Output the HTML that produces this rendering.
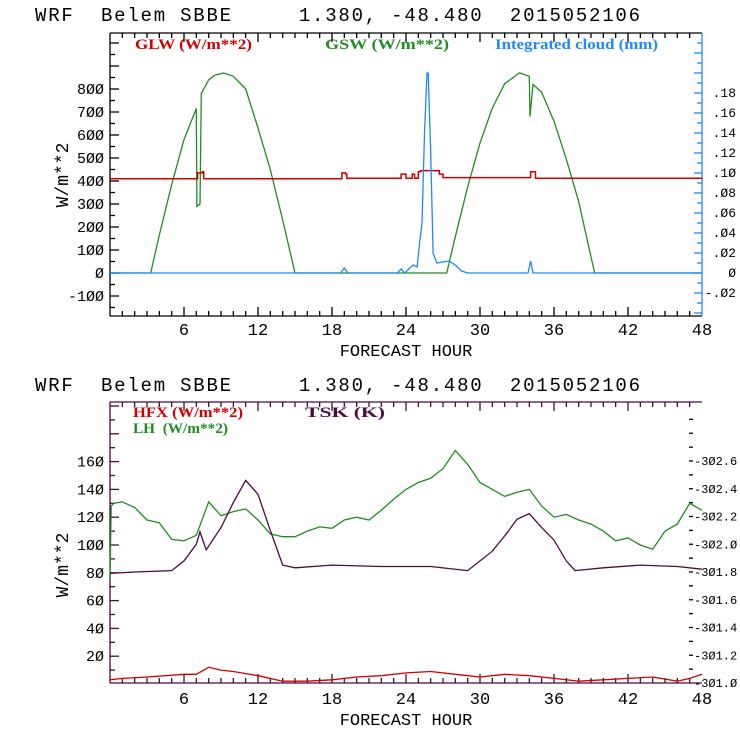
<!DOCTYPE html>
<html><head><meta charset="utf-8">
<style>
html,body{margin:0;padding:0;background:#fff;}
svg{display:block;}
text{font-family:"Liberation Mono",monospace;}
.lg{font-family:"Liberation Serif",serif;font-size:15px;font-weight:bold;}
</style></head>
<body>
<svg id="c" width="740" height="740" xmlns="http://www.w3.org/2000/svg">
<text x="35" y="21" font-size="19" xml:space="preserve" textLength="605" lengthAdjust="spacing">WRF  Belem SBBE     1.380, -48.480  2015052106</text>
<text x="35" y="391" font-size="19" xml:space="preserve" textLength="605" lengthAdjust="spacing">WRF  Belem SBBE     1.380, -48.480  2015052106</text>
<text class="lg" x="135" y="49" fill="#d00000" textLength="117" lengthAdjust="spacingAndGlyphs">GLW (W/m**2)</text>
<text class="lg" x="325" y="49" fill="#228b22" textLength="124" lengthAdjust="spacingAndGlyphs">GSW (W/m**2)</text>
<text class="lg" x="495" y="49" fill="#1e88ff" textLength="163" lengthAdjust="spacingAndGlyphs">Integrated cloud (mm)</text>
<text class="lg" x="133" y="417" fill="#d00000" textLength="110" lengthAdjust="spacingAndGlyphs">HFX (W/m**2)</text>
<text class="lg" x="133" y="433" fill="#228b22" xml:space="preserve" textLength="95" lengthAdjust="spacingAndGlyphs">LH  (W/m**2)</text>
<text class="lg" x="305" y="417" fill="#4b0a40" textLength="80" lengthAdjust="spacingAndGlyphs">TSK (K)</text>
<text x="406" y="356" font-size="17" text-anchor="middle">FORECAST HOUR</text>
<text x="406" y="725" font-size="17" text-anchor="middle">FORECAST HOUR</text>
<text transform="translate(68,175) rotate(-90)" font-size="18" text-anchor="middle">W/m**2</text>
<text transform="translate(68,565) rotate(-90)" font-size="18" text-anchor="middle">W/m**2</text>
</svg>
<script>
// ---- data (top chart) ----
const gswHours = [0,3.3,4,5,6,7,7.05,7.3,7.4,8,8.5,9.2,10,11,12,13,14,15,27.3,28,29,30,31,32,33.2,34,34.05,34.3,35,36,37,38,39,39.3,48];
const gswValues = [0,0,165,385,580,715,290,300,780,840,860,870,855,800,630,450,230,0,0,158,375,565,717,823,870,855,680,820,785,660,495,310,70,0,0];
const glwHours = [0,7,7.1,7.5,7.6,18.7,18.8,19.1,19.2,23.5,23.6,24,24.3,24.5,24.7,25,25.2,26.3,26.7,27,34,34.1,34.4,34.5,48];
const glwValues = [410,410,435,440,410,410,435,430,412,412,430,412,412,430,412,440,445,445,430,415,415,440,440,412,410];
const cloudHours = [0,18.7,19,19.3,23.3,23.6,23.9,24.3,24.6,24.9,25.1,25.3,25.5,25.7,25.8,26,26.2,26.5,27,27.5,28,28.5,29,33.9,34.1,34.3,48];
const cloudValues = [0,0,0.005,0,0,0.004,0,0.005,0.008,0.006,0.03,0.05,0.14,0.2,0.2,0.12,0.02,0.01,0.011,0.012,0.008,0.002,0,0,0.012,0,0];
const topYTicks = [-100,0,100,200,300,400,500,600,700,800];
const cloudTicks = [-0.02,0,0.02,0.04,0.06,0.08,0.10,0.12,0.14,0.16,0.18];
const cloudTickLabels = ["-.02","0",".02",".04",".06",".08",".10",".12",".14",".16",".18"];
const xTicks = [6,12,18,24,30,36,42,48];
// ---- data (bottom chart) ----
const lhHours = [0,0.1,0.3,1,2,3,4,5,6,7,8,9,10,11,12,13,14,15,16,17,18,19,20,21,22,23,24,25,26,27,28,29,30,31,32,33,34,35,36,37,38,39,40,41,42,43,44,45,46,47,48];
const lhValues = [75,128,130,131,127,118,116,104,103,107,131,121,124,126,118,108,106,106,110,113,112,118,120,118,125,133,140,145,148,155,168,158,145,140,135,138,140,128,120,122,118,115,110,103,105,100,97,110,115,130,125];
const hfxHours = [0,1,3,6,7,8,9,10,12,14,16,18,20,22,24,26,28,30,32,34,36,38,40,42,44,46,47,48];
const hfxValues = [3,4,5,7,7,12,10,9,6,2,2,3,5,6,8,9,7,5,7,6,4,2,3,4,5,2,4,7];
const tskHours = [0,2,5,6,7,7.3,7.8,9,10,11,12,13,14,15,18,22,26,29,31,32,33,34,35,36,37,37.7,40,43,46,48];
const tskValues = [301.79,301.8,301.81,301.88,302.0,302.09,301.96,302.12,302.3,302.46,302.36,302.1,301.85,301.83,301.85,301.84,301.84,301.81,301.95,302.06,302.18,302.22,302.12,302.03,301.88,301.81,301.83,301.85,301.84,301.82];
const bottomYTicks = [20,40,60,80,100,120,140,160];
const tskTicks = [301.0,301.2,301.4,301.6,301.8,302.0,302.2,302.4,302.6];
const tskTickLabels = ["301.0","301.2","301.4","301.6","301.8","302.0","302.2","302.4","302.6"];

const svg = document.getElementById('c');
const NS = 'http://www.w3.org/2000/svg';
function mk(tag, attrs){const e=document.createElementNS(NS,tag);for(const k in attrs)e.setAttribute(k,attrs[k]);svg.appendChild(e);return e;}
const X0=110, X1=702;
const xs = h => X0 + (X1-X0)*h/48;
const yTop = v => 273 - v*0.23;
const yCloud = v => 273 - v*1000;
const yBot = v => 684 - v*1.39;
const yTsk = v => 683 - (v-301)*138.75;

function line(hours, vals, xf, yf, color, name){
  let d='';
  hours.forEach((h,i)=>{d+=(i?'L':'M')+xf(h).toFixed(1)+','+yf(vals[i]).toFixed(1);});
  const p=mk('path',{d:d,fill:'none',stroke:color,'stroke-width':1.3});
  
  
}
function stepline(hours, vals, xf, yf, color, name){
  let d='M'+xf(hours[0]).toFixed(1)+','+yf(vals[0]).toFixed(1);
  for(let i=1;i<hours.length;i++){d+='L'+xf(hours[i]).toFixed(1)+','+yf(vals[i-1]).toFixed(1)+'L'+xf(hours[i]).toFixed(1)+','+yf(vals[i]).toFixed(1);}
  const p=mk('path',{d:d,fill:'none',stroke:color,'stroke-width':1.5});
  
  
}
function seg(x1,y1,x2,y2,color,name){
  const l=mk('line',{x1:x1,y1:y1,x2:x2,y2:y2,stroke:color,'stroke-width':1.3});
  
  
}
function label(x,y,txt,anchor,name,size){
  const t=mk('text',{x:x,y:y,'font-size':size||15,'text-anchor':anchor});
  t.textContent=txt;
  
  
}

// ---- top chart ----
const T0=33, T1=316;
seg(X0,T0,X1,T0,'#000','top-plot-border');
seg(X0,T1,X1,T1,'#000','top-x-axis');
seg(X0,T0,X0,T1,'#000','top-y-axis');
seg(X1,T0,X1,T1,'#1e88ff','top-right-axis');
for(let h=1;h<48;h++){const len=h%6===0?9:5;seg(xs(h),T1,xs(h),T1-len,'#000','top-x-tick');seg(xs(h),T0,xs(h),T0+len,'#000','top-x-tick-top');}
for(let v=-150;v<=1000;v+=50){const y=yTop(v);if(y<T0||y>T1)continue;seg(X0,y,X0+(v%100===0?9:5),y,'#000','top-y-tick');}
topYTicks.forEach(v=>label(X0-6,yTop(v)+5,String(v).replace(/0/g,'Ø'),'end','top-y-label'));
for(let v=-0.04;v<=0.25;v+=0.01){const y=yCloud(v);if(y<T0||y>T1)continue;seg(X1,y,X1-(Math.round(v*100)%2===0?8:5),y,'#1e88ff','top-right-tick');}
cloudTicks.forEach((v,i)=>label(736,yCloud(v)+4,cloudTickLabels[i].replace(/0/g,'Ø'),'end','cloud-axis-label',13));
xTicks.forEach(h=>label(xs(h),T1+19,String(h),'middle','top-x-label',17));
line(gswHours,gswValues,xs,yTop,'#228b22','gsw-line');
stepline(glwHours,glwValues,xs,yTop,'#d00000','glw-line');
line(cloudHours,cloudValues,xs,yCloud,'#1e88ff','cloud-line');

// ---- bottom chart ----
const B0=402, B1=683;
const pur='#4b0a40';
seg(X0,B0,X1,B0,pur,'bottom-plot-border');
seg(X0,B1,X1,B1,pur,'bottom-x-axis');
seg(X0,B0,X0,B1,pur,'bottom-y-axis');
for(let h=1;h<48;h++){const len=h%6===0?9:5;seg(xs(h),B1,xs(h),B1-len,pur,'bottom-x-tick');seg(xs(h),B0,xs(h),B0+len,pur,'bottom-x-tick-top');}
for(let v=10;v<=200;v+=10){const y=yBot(v);if(y<B0||y>B1)continue;seg(X0,y,X0+(v%20===0?9:5),y,pur,'bottom-y-tick');}
bottomYTicks.forEach(v=>label(X0-6,yBot(v)+5,String(v).replace(/0/g,'Ø'),'end','bottom-y-label'));
for(let v=301.1;v<=302.95;v+=0.1){const y=yTsk(v);if(y<B0+5)continue;seg(689,y,693,y,'#000','tsk-tick');}
tskTicks.forEach((v,i)=>label(694,yTsk(v)+4,'-'+tskTickLabels[i].replace(/0/g,'Ø'),'start','tsk-axis-label',12));
xTicks.forEach(h=>label(xs(h),B1+21,String(h),'middle','bottom-x-label',17));
line(lhHours,lhValues,xs,yBot,'#228b22','lh-line');
line(tskHours,tskValues,xs,yTsk,pur,'tsk-line');
line(hfxHours,hfxValues,xs,yBot,'#d00000','hfx-line');
</script>
</body></html>
